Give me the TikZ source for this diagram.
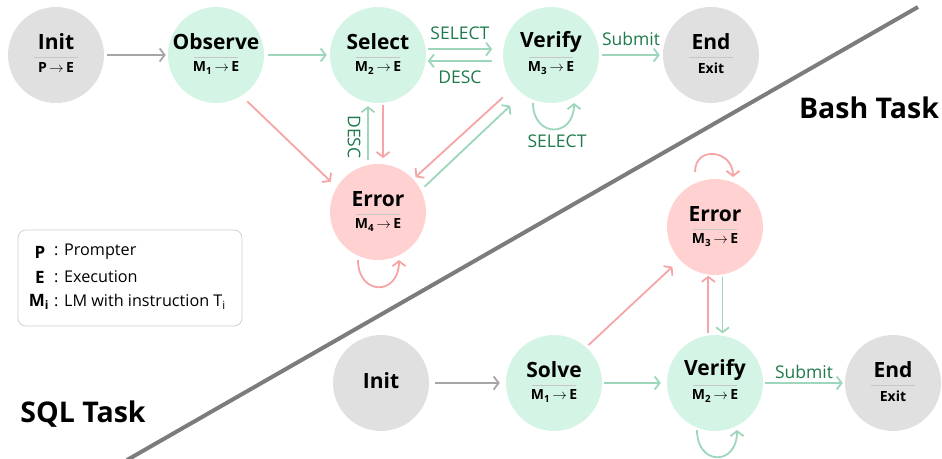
\documentclass[tikz,border=0pt]{standalone}
\usepackage{fontspec}
\setmainfont{Open Sans}
\usetikzlibrary{arrows.meta,calc}
\definecolor{grayfill}{HTML}{E0E0E0}
\definecolor{greenfill}{HTML}{D4F5E6}
\definecolor{redfill}{HTML}{FFD1D1}
\definecolor{grayline}{HTML}{A6A6A6}
\definecolor{greenline}{HTML}{9DD6BA}
\definecolor{redline}{HTML}{F5A5A5}
\definecolor{lblgreen}{HTML}{1E7A4A}
\definecolor{divcol}{HTML}{C6C6C6}
\definecolor{diagcol}{HTML}{7C7C7C}
\definecolor{boxcol}{HTML}{CFCFCF}
\tikzset{
  state/.style={circle, minimum size=96pt, inner sep=0pt, draw=none},
  gstate/.style={state, fill=grayfill},
  mstate/.style={state, fill=greenfill},
  rstate/.style={state, fill=redfill},
  ttl/.style={font=\fontsize{21}{23}\selectfont\bfseries, inner sep=0pt},
  subt/.style={font=\fontsize{14}{16}\selectfont\bfseries, inner sep=0pt},
  divider/.style={draw=divcol, line width=0.8pt},
  conn/.style={line width=1.8pt, -{Straight Barb[length=5pt,width=13pt,line width=1.8pt]}},
  grayconn/.style={conn, draw=grayline},
  greenconn/.style={conn, draw=greenline},
  redconn/.style={conn, draw=redline},
  lbl/.style={font=\fontsize{17.5}{19}\selectfont, text=lblgreen, inner sep=0pt},
  tasklbl/.style={font=\fontsize{28.5}{30}\selectfont\bfseries, inner sep=0pt},
  legtxt/.style={font=\fontsize{16.2}{18}\selectfont, inner sep=0pt, anchor=west},
  legkey/.style={font=\fontsize{17}{19}\selectfont\bfseries, inner sep=0pt},
}
\newcommand\mkstate[6]{%
  \node[#3] (#1) at (#2) {};
  \node[ttl] (#1-t) at ($(#1.center)+(0,-13)$) {#4};
  \draw[divider] ($(#1.center)+(-22,#6)$) -- ($(#1.center)+(22,#6)$);
  \node[subt] (#1-s) at ($(#1.center)+(0,13)$) {#5};
}
\newcommand\arr{\,$\rightarrow$\,}
\begin{document}
\begin{tikzpicture}[x=1pt,y=-1pt]
\useasboundingbox (0,0) rectangle (942,458);
% divider
\draw[diagcol, line width=4pt] (918,7) -- (127,460);
% task labels
\node[tasklbl] (bashlbl) at (869,108) {Bash Task};
\node[tasklbl] (sqllbl) at (83,414) {SQL Task};
% Bash states
\mkstate{binit}{56,55}{gstate}{Init}{P\arr E}{2}
\mkstate{bobs}{216,55}{mstate}{Observe}{M\textsubscript{1}\arr E}{2}
\mkstate{bsel}{378,55}{mstate}{Select}{M\textsubscript{2}\arr E}{2}
\mkstate{bver}{551,55}{mstate}{Verify}{M\textsubscript{3}\arr E}{2}
\mkstate{bend}{711,55}{gstate}{End}{Exit}{2}
\mkstate{berr}{378,212}{rstate}{Error}{M\textsubscript{4}\arr E}{2}
% SQL states
\node[gstate] (sinit) at (381,383) {};
\node[ttl] (sinit-t) at ($(sinit.center)+(0,-2)$) {Init};
\mkstate{ssolve}{554,383}{mstate}{Solve}{M\textsubscript{1}\arr E}{2}
\mkstate{sver}{715,383}{mstate}{Verify}{M\textsubscript{2}\arr E}{2}
\mkstate{send}{893,383}{gstate}{End}{Exit}{2}
\mkstate{serr}{715,227}{rstate}{Error}{M\textsubscript{3}\arr E}{2}
% Bash edges
\draw[grayconn, shorten <=3pt, shorten >=2pt] (binit.east) -- (bobs.west);
\draw[greenconn, shorten <=4pt, shorten >=3pt] (bobs.east) -- (bsel.west);
\draw[greenconn, shorten <=2pt, shorten >=11pt] (bsel.7) -- node[lbl, pos=0.44, yshift=16pt] {SELECT} (bver.173);
\draw[greenconn, shorten <=11pt, shorten >=2pt] (bver.-173) -- node[lbl, pos=0.56, yshift=-16pt] {DESC} (bsel.-7);
\draw[greenconn, shorten <=3pt, shorten >=3pt] (bver.east) -- node[lbl, midway, yshift=16pt] {Submit} (bend.west);
\draw[greenconn] ($(bver.center)+(-18,48)$) .. controls +(0,35) and +(0,35) .. ($(bver.center)+(23,48)$);
\node[lbl] (bverloop) at ($(bver.center)+(6,86)$) {SELECT};
\draw[redconn, shorten <=8pt, shorten >=8pt] (bobs.-58) -- (berr.149);
\draw[redconn, shorten <=2pt, shorten >=6pt] (bsel.-84) -- (berr.84);
\draw[greenconn, shorten <=5pt, shorten >=4pt] (berr.102) -- (bsel.-102);
\node[lbl, rotate=-90] (desclbl) at (354,137) {DESC};
\draw[redconn, shorten <=16pt, shorten >=3pt] (bver.-139.4) -- (berr.43.4);
\draw[greenconn, shorten <=5pt, shorten >=17pt] (berr.27) -- (bver.-126.9);
\draw[redconn] ($(berr.center)+(-20,48)$) .. controls +(0,36) and +(0,36) .. ($(berr.center)+(21,48)$);
% SQL edges
\draw[grayconn, shorten <=6pt, shorten >=6pt] (sinit.east) -- (ssolve.west);
\draw[greenconn, shorten <=2pt, shorten >=6pt] (ssolve.east) -- (sver.west);
\draw[greenconn, shorten <=2pt, shorten >=2pt] (sver.east) -- node[lbl, midway, yshift=11pt] {Submit} (send.west);
\draw[redconn, shorten <=3pt, shorten >=10pt] (ssolve.48.2) -- (serr.223.6);
\draw[redconn, shorten <=2pt, shorten >=1pt] (sver.98.4) -- (serr.-98.4);
\draw[greenconn, shorten <=2pt, shorten >=2pt] (serr.-81.6) -- (sver.81.6);
\draw[redconn] ($(serr.center)+(-20,-55)$) .. controls +(0,-27) and +(0,-27) .. ($(serr.center)+(18,-50)$);
\draw[greenconn] ($(sver.center)+(-18,47)$) .. controls +(0,36) and +(0,36) .. ($(sver.center)+(22,47)$);
% legend
\draw[boxcol, line width=0.8pt, rounded corners=8pt] (18,230) rectangle (242,326);
\node[legkey] (kp) at (40,252) {P};
\node[legkey] (ke) at (40,277) {E};
\node[legkey] (km) at (39,302) {M\textsubscript{i}};
\node[legtxt] (tp) at (54,252) {: Prompter};
\node[legtxt] (te) at (54,277) {: Execution};
\node[legtxt] (tm) at (54,302) {: LM with instruction T\textsubscript{i}};
\end{tikzpicture}
\end{document}
